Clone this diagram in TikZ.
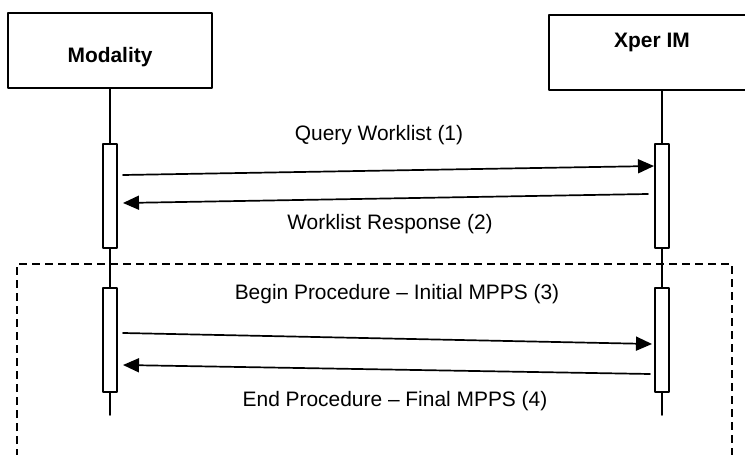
\documentclass[tikz,border=0pt]{standalone}
\usepackage{fontspec}
\setmainfont{Liberation Sans}
\usetikzlibrary{arrows.meta}
\begin{document}
\begin{tikzpicture}[x=1bp, y=-1bp, font=\fontsize{21}{25}\selectfont, line join=round, line cap=round, >={Triangle[length=16bp,width=14bp]}]
		\tikzset{actor/.style={draw, line width=1.7bp, minimum width=204bp, minimum height=75bp, inner sep=0pt},
			act/.style={draw, fill=white, line width=1.7bp, minimum width=14bp, minimum height=104bp, inner sep=0pt},
			life/.style={line width=1.7bp},
			msg/.style={->, line width=1.7bp},
			title/.style={anchor=base, font=\fontsize{21}{25}\selectfont\bfseries},
			lbl/.style={anchor=base}}
		\def \xm{110}
		\def \xx{662}
		\def \yend{415}
		\clip (0,0) rectangle (745,455);
		\node[actor] (mod) at (\xm,50.5) {};
		\node[actor] (xper) at (651,52.5) {};
		\node[title] (modname) at (110,63) {Modality};
		\node[title] (xpername) at (652,48) {Xper IM};
		\coordinate (modend) at (\xm,\yend);
		\coordinate (xperend) at (\xx,\yend);
		\draw[life] (mod.south) -- (modend);
		\draw[life] (xper.south -| xperend) -- (xperend);
		\draw[dashed, line width=1.5bp, line cap=butt, dash pattern=on 8bp off 5bp] (17,470) -- (17,264) -- (732,264) -- (732,470);
		\node[act] (m1) at (\xm,196) {};
		\node[act] (x1) at (\xx,196) {};
		\node[act] (m2) at (\xm,340) {};
		\node[act] (x2) at (\xx,340) {};
		\coordinate (a1s) at (123,175);
		\coordinate (a1e) at (654,166);
		\coordinate (a2s) at (648,194);
		\coordinate (a2e) at (123,203);
		\coordinate (a3s) at (123,333);
		\coordinate (a3e) at (652,344);
		\coordinate (a4s) at (650,374);
		\coordinate (a4e) at (123,365);
		\draw[msg] (a1s) -- (a1e);
		\draw[msg] (a2s) -- (a2e);
		\draw[msg] (a3s) -- (a3e);
		\draw[msg] (a4s) -- (a4e);
		\node[lbl] (q1) at (379,141) {Query Worklist (1)};
		\node[lbl] (q2) at (390,230) {Worklist Response (2)};
		\node[lbl] (q3) at (397,300) {Begin Procedure -- Initial MPPS (3)};
		\node[lbl] (q4) at (395,406) {End Procedure -- Final MPPS (4)};
\end{tikzpicture}
\end{document}
